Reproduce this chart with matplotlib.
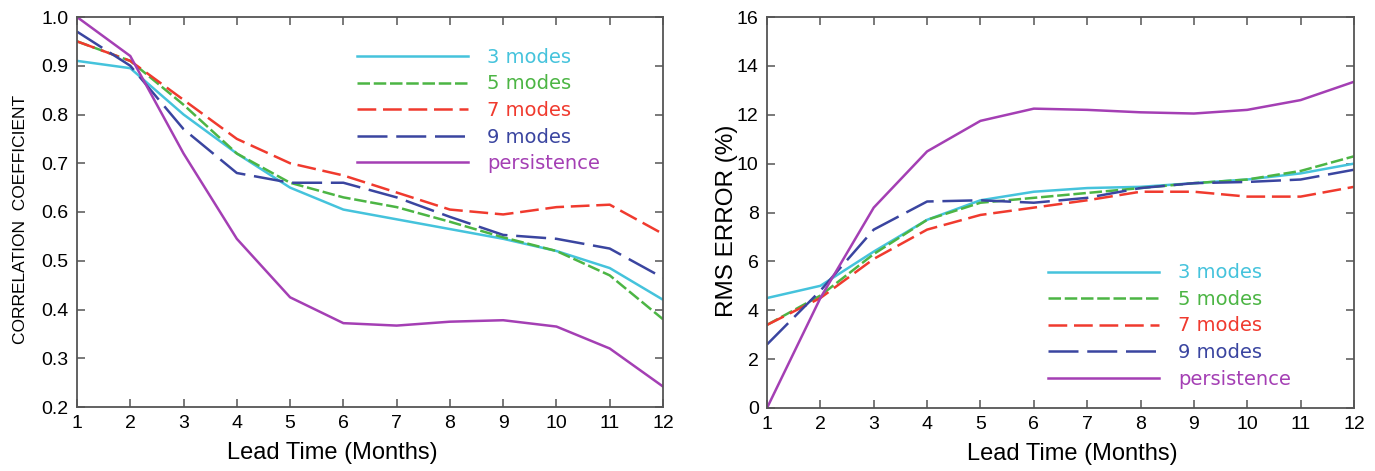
import matplotlib
matplotlib.use("Agg")
import matplotlib.pyplot as plt

# Lead time in months
lead = [1, 2, 3, 4, 5, 6, 7, 8, 9, 10, 11, 12]

# Correlation coefficient by number of modes
corr_3 = [0.91, 0.895, 0.80, 0.72, 0.65, 0.605, 0.585, 0.565, 0.545, 0.52, 0.485, 0.42]
corr_5 = [0.95, 0.91, 0.82, 0.72, 0.66, 0.63, 0.61, 0.58, 0.548, 0.52, 0.47, 0.38]
corr_7 = [0.95, 0.91, 0.83, 0.75, 0.70, 0.675, 0.64, 0.605, 0.595, 0.61, 0.615, 0.555]
corr_9 = [0.97, 0.90, 0.77, 0.68, 0.66, 0.66, 0.63, 0.59, 0.553, 0.545, 0.525, 0.465]
corr_p = [1.0, 0.92, 0.72, 0.545, 0.425, 0.372, 0.367, 0.375, 0.378, 0.365, 0.32, 0.242]

# RMS error (%) by number of modes
rms_3 = [4.5, 5.0, 6.4, 7.7, 8.5, 8.85, 9.0, 9.05, 9.2, 9.35, 9.6, 10.0]
rms_5 = [3.4, 4.6, 6.3, 7.7, 8.4, 8.6, 8.8, 9.0, 9.2, 9.35, 9.7, 10.3]
rms_7 = [3.4, 4.5, 6.1, 7.3, 7.9, 8.2, 8.5, 8.85, 8.85, 8.65, 8.65, 9.05]
rms_9 = [2.6, 4.8, 7.3, 8.45, 8.5, 8.4, 8.6, 9.0, 9.2, 9.25, 9.35, 9.75]
rms_p = [0.0, 4.5, 8.2, 10.5, 11.75, 12.25, 12.2, 12.1, 12.05, 12.2, 12.6, 13.35]

labels = ["3 modes", "5 modes", "7 modes", "9 modes", "persistence"]
colors = ["#45c3dc", "#4cb544", "#f03a2e", "#3a45a0", "#a43fb4"]
styles = ["-", (0, (5, 1.5)), (0, (7.5, 2.7)), (0, (12, 3.5)), "-"]

plt.rcParams["font.family"] = ["Liberation Sans", "DejaVu Sans"]

fig = plt.figure(figsize=(13.75, 4.71), dpi=100)
ax1 = fig.add_axes([77 / 1375, 1 - 407 / 471, (663 - 77) / 1375, (407 - 17) / 471])
ax2 = fig.add_axes([767 / 1375, 1 - 408 / 471, (1354 - 767) / 1375, (408 - 17) / 471])


def style_axes(ax, xlabel_x):
    for sp in ax.spines.values():
        sp.set_color("#555555")
        sp.set_linewidth(1.3)
    ax.tick_params(direction="in", length=6, width=1.1, color="#555555",
                   top=True, right=True, labelsize=14, pad=6)
    ax.set_xlim(1, 12)
    ax.set_xticks(lead)
    ax.set_xlabel("Lead Time (Months)", fontsize=17)
    ax.xaxis.set_label_coords(xlabel_x, -0.09, transform=ax.transAxes)
    ax.xaxis.label.set_verticalalignment("top")


def add_legend(ax, x, y):
    ax.legend(loc="upper left", bbox_to_anchor=(x, y), frameon=False,
              borderpad=0, borderaxespad=0,
              handlelength=5.7, handletextpad=1.0, labelspacing=0.39,
              prop={"family": "DejaVu Sans", "size": 14},
              labelcolor="linecolor")


for series, lab, c, ls in zip([corr_3, corr_5, corr_7, corr_9, corr_p], labels, colors, styles):
    ax1.plot(lead, series, color=c, linestyle=ls, linewidth=1.8, label=lab)
style_axes(ax1, 0.435)
ax1.set_ylim(0.2, 1.0)
ax1.set_yticks([0.2, 0.3, 0.4, 0.5, 0.6, 0.7, 0.8, 0.9, 1.0])
ax1.set_yticklabels(["0.2", "0.3", "0.4", "0.5", "0.6", "0.7", "0.8", "0.9", "1.0"])
ax1.set_ylabel("CORRELATION  COEFFICIENT", fontsize=12.5)
ax1.yaxis.set_label_coords(-0.083, 0.48, transform=ax1.transAxes)
add_legend(ax1, 0.478, 0.921)

for series, lab, c, ls in zip([rms_3, rms_5, rms_7, rms_9, rms_p], labels, colors, styles):
    ax2.plot(lead, series, color=c, linestyle=ls, linewidth=1.8, label=lab)
style_axes(ax2, 0.52)
ax2.set_ylim(0, 16)
ax2.set_yticks(range(0, 17, 2))
ax2.set_ylabel("RMS ERROR (%)", fontsize=17.5)
ax2.yaxis.set_label_coords(-0.05, 0.478, transform=ax2.transAxes)
add_legend(ax2, 0.479, 0.37)

fig.savefig("out.png", dpi=100)
